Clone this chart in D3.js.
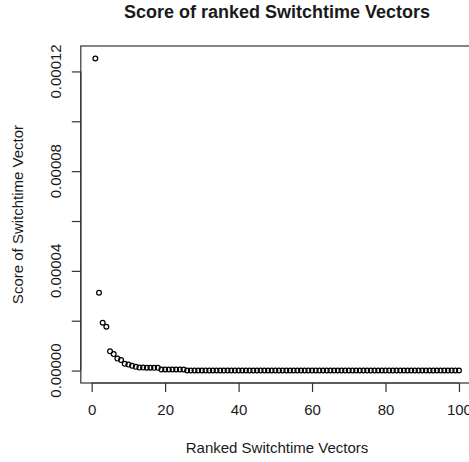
<!DOCTYPE html>
<html>
<head>
<meta charset="utf-8">
<script src="https://cdn.jsdelivr.net/npm/d3@7"></script>
<style>
  html, body { margin: 0; padding: 0; background: #ffffff; }
  svg { display: block; }
  text { font-family: "Liberation Sans", Arial, sans-serif; fill: #1a1a1a; }
</style>
</head>
<body>
<svg id="chart" width="469" height="462"></svg>
<script>
// ---- data ----
const ranks = d3.range(1, 101);
const scores = [
  1.252e-4, 3.12e-5, 1.92e-5, 1.76e-5, 7.7e-6, 6.6e-6, 4.8e-6, 4.2e-6, 2.7e-6, 2.4e-6,
  1.9e-6, 1.5e-6, 1.2e-6, 1.2e-6, 1.15e-6, 1.15e-6, 1.1e-6, 1.1e-6, 4.5e-7, 4.5e-7,
  4.5e-7, 4.5e-7, 4.5e-7, 4.4e-7, 4.4e-7, 3e-8, 3e-8, 3e-8, 3e-8, 3e-8,
  3e-8, 3e-8, 3e-8, 3e-8, 3e-8, 3e-8, 3e-8, 3e-8, 3e-8, 3e-8,
  3e-8, 3e-8, 3e-8, 3e-8, 3e-8, 3e-8, 3e-8, 3e-8, 3e-8, 3e-8,
  3e-8, 3e-8, 3e-8, 3e-8, 3e-8, 3e-8, 3e-8, 3e-8, 3e-8, 3e-8,
  3e-8, 3e-8, 3e-8, 3e-8, 3e-8, 3e-8, 3e-8, 3e-8, 3e-8, 3e-8,
  3e-8, 3e-8, 3e-8, 3e-8, 3e-8, 3e-8, 3e-8, 3e-8, 3e-8, 3e-8,
  3e-8, 3e-8, 3e-8, 3e-8, 3e-8, 3e-8, 3e-8, 3e-8, 3e-8, 3e-8,
  3e-8, 3e-8, 3e-8, 3e-8, 3e-8, 3e-8, 3e-8, 3e-8, 3e-8, 2e-8
];
const xTicks = [0, 20, 40, 60, 80, 100];
const yTicks = [0, 0.00002, 0.00004, 0.00006, 0.00008, 0.0001, 0.00012];
const yLabelTicks = [0, 0.00004, 0.00008, 0.00012];
const titleText = "Score of ranked Switchtime Vectors";
const xTitle = "Ranked Switchtime Vectors";
const yTitle = "Score of Switchtime Vector";

// ---- layout ----
const W = 469, H = 462;
const plot = { left: 80.8, right: 473.5, top: 46, bottom: 383 };
const svg = d3.select("#chart");

// R-style 4% padding
const xExt = d3.extent(ranks), yExt = d3.extent(scores);
const xPad = (xExt[1] - xExt[0]) * 0.04, yPad = (yExt[1] - yExt[0]) * 0.04;
const x = d3.scaleLinear().domain([xExt[0] - xPad, xExt[1] + xPad]).range([plot.left, plot.right]);
const y = d3.scaleLinear().domain([yExt[0] - yPad, yExt[1] + yPad]).range([plot.bottom, plot.top]);

// box
svg.append("rect")
  .attr("x", plot.left).attr("y", plot.top)
  .attr("width", plot.right - plot.left).attr("height", plot.bottom - plot.top)
  .attr("fill", "none").attr("stroke", "#333").attr("stroke-width", 1.2);

// x axis
const xAxis = svg.append("g").attr("transform", `translate(0,${plot.bottom})`)
  .call(d3.axisBottom(x).tickValues(xTicks).tickSize(9).tickSizeOuter(0).tickFormat(d3.format("d")).tickPadding(12));
xAxis.select(".domain").attr("d", `M${x(0)},0H${x(100)}`).attr("stroke", "#333").attr("stroke-width", 1.2);
xAxis.selectAll(".tick line").attr("stroke", "#333").attr("stroke-width", 1.2);
xAxis.selectAll("text").style("font-size", "15px").attr("fill", "#1a1a1a")
  .style("font-family", '"Liberation Sans", Arial, sans-serif');

// y axis
const yAxis = svg.append("g").attr("transform", `translate(${plot.left},0)`)
  .call(d3.axisLeft(y).tickValues(yTicks).tickSize(9).tickSizeOuter(0).tickFormat(() => ""));
yAxis.select(".domain").attr("d", `M0,${y(0)}V${y(0.00012)}`).attr("stroke", "#333").attr("stroke-width", 1.2);
yAxis.selectAll(".tick line").attr("stroke", "#333").attr("stroke-width", 1.2);

const fmt = d3.format(".5f");
svg.append("g").selectAll("text").data(yLabelTicks).join("text")
  .attr("transform", d => `translate(61,${y(d)}) rotate(-90)`)
  .attr("text-anchor", "middle")
  .style("font-size", "15px")
  .text(d => fmt(d));

// points
svg.append("g").selectAll("circle").data(ranks).join("circle")
  .attr("cx", (d) => x(d))
  .attr("cy", (d, i) => y(scores[i]))
  .attr("r", 2.4)
  .attr("fill", "none")
  .attr("stroke", "#000")
  .attr("stroke-width", 1.2);

// titles
svg.append("text").attr("x", 277).attr("y", 18).attr("text-anchor", "middle")
  .style("font-size", "18px").style("font-weight", "bold").attr("fill", "#000").text(titleText);
svg.append("text").attr("x", 277).attr("y", 453).attr("text-anchor", "middle")
  .style("font-size", "15px").text(xTitle);
svg.append("text").attr("transform", `translate(23,${(plot.top + plot.bottom) / 2}) rotate(-90)`)
  .attr("text-anchor", "middle").style("font-size", "15px").text(yTitle);
</script>
</body>
</html>
